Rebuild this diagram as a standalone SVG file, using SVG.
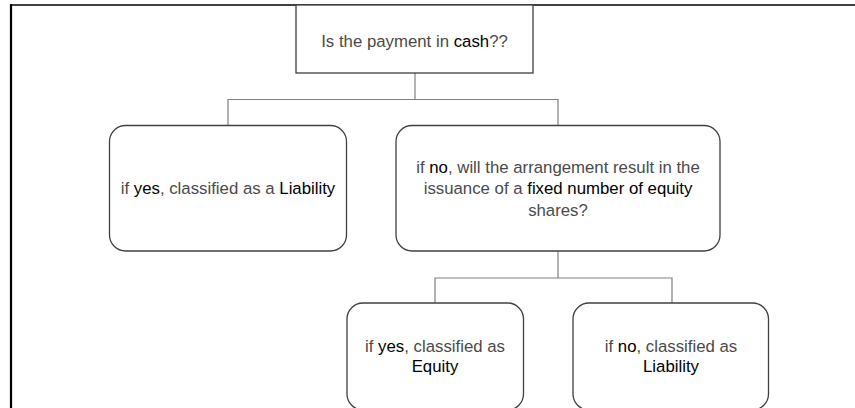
<svg xmlns="http://www.w3.org/2000/svg" width="855" height="408" viewBox="0 0 855 408">
<style>
.box{fill:#fff;stroke:#404040;stroke-width:1.3}
.conn{fill:none;stroke:#808080;stroke-width:1.2}
text{font-family:"Liberation Sans",Arial,sans-serif;font-size:16.8px;fill:#4a4a4a;text-anchor:middle}
.b{fill:#000}
</style>
<rect width="855" height="408" fill="#fff"/>
<g id="frame">
<line x1="10" y1="5" x2="855" y2="5" stroke="#000" stroke-width="1.6"/>
<line x1="11" y1="4.2" x2="11" y2="408" stroke="#000" stroke-width="2.2"/>
</g>
<g id="connectors">
<path class="conn" d="M415 73 V99.5 M228 126 V99.5 H558 V126"/>
<path class="conn" d="M558 251 V278 M435 303 V278 H672 V303"/>
</g>
<g id="q1">
<rect class="box" x="296" y="5" width="237" height="68"/>
<text x="414.5" y="47">Is the payment in <tspan class="b">cash</tspan>??</text>
</g>
<g id="yes1">
<rect class="box" x="109.5" y="125.5" width="237" height="125.5" rx="16"/>
<text x="228" y="194">if <tspan class="b">yes</tspan>, classified as a <tspan class="b">Liability</tspan></text>
</g>
<g id="no1">
<rect class="box" x="396" y="125.5" width="324" height="125.5" rx="16"/>
<text x="558" y="172.5">if <tspan class="b">no</tspan>, will the arrangement result in the</text>
<text x="558" y="194">issuance of a <tspan class="b">fixed number of equity</tspan></text>
<text x="558" y="215.5">shares?</text>
</g>
<g id="yes2">
<rect class="box" x="347" y="303" width="176.5" height="107" rx="16"/>
<text x="435" y="352">if <tspan class="b">yes</tspan>, classified as</text>
<text x="435" y="372" class="b">Equity</text>
</g>
<g id="no2">
<rect class="box" x="573" y="303" width="195.5" height="107" rx="16"/>
<text x="671" y="352">if <tspan class="b">no</tspan>, classified as</text>
<text x="671" y="372" class="b">Liability</text>
</g>
</svg>
